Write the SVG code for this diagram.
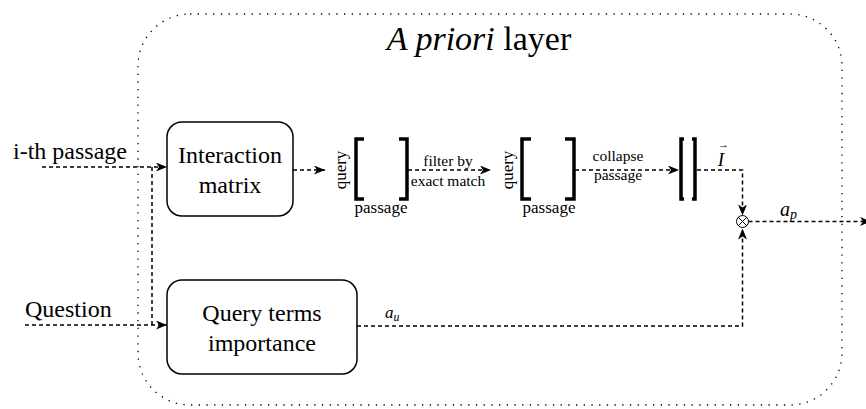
<svg xmlns="http://www.w3.org/2000/svg" width="866" height="409" viewBox="0 0 866 409">
  <style>
    text { font-family: "Liberation Serif", "Times New Roman", serif; fill: #000; }
    .big { font-size: 24px; }
    .mid { font-size: 17px; }
    .small { font-size: 15.5px; }
    .math { font-style: italic; }
    .box { fill: #fff; stroke: #000; stroke-width: 1.5; }
    .frame { fill: none; stroke: #000; stroke-width: 1.3; stroke-dasharray: 1.3 6.4; }
    .bracket { fill: none; stroke: #000; stroke-width: 3.5; }
    .link { fill: none; stroke: #000; stroke-width: 1.5; stroke-dasharray: 4 3; }
    .arrow { marker-end: url(#head); }
  </style>
  <defs>
    <marker id="head" viewBox="0 0 11 9" refX="11" refY="4.5" markerWidth="11" markerHeight="9" markerUnits="userSpaceOnUse" orient="auto">
      <path d="M0,0 L11,4.5 L0,9 L3,4.5 Z" fill="#000"/>
    </marker>
  </defs>

  <!-- enclosing layer -->
  <g id="apriori-layer">
    <rect class="frame" x="138" y="14" width="704" height="391" rx="52" ry="52"/>
    <text x="479" y="50" font-size="34" text-anchor="middle"><tspan font-style="italic">A priori</tspan> layer</text>
  </g>

  <!-- inputs -->
  <g id="input-passage">
    <text class="big" x="13" y="159">i-th passage</text>
  </g>
  <g id="input-question">
    <text class="big" x="25" y="317">Question</text>
  </g>

  <!-- processing blocks -->
  <g id="interaction-matrix">
    <rect class="box" x="167" y="122" width="126" height="94" rx="15" ry="15"/>
    <text class="big" x="230" y="163" text-anchor="middle">Interaction</text>
    <text class="big" x="230" y="193" text-anchor="middle">matrix</text>
  </g>

  <g id="query-terms-importance">
    <rect class="box" x="167" y="280" width="190" height="94" rx="15" ry="15"/>
    <text class="big" x="262" y="321" text-anchor="middle">Query terms</text>
    <text class="big" x="262" y="351" text-anchor="middle">importance</text>
  </g>

  <g id="matrix-full">
    <path class="bracket" d="M364,139 H356 V199 H364"/>
    <path class="bracket" d="M399,139 H407 V199 H399"/>
    <text class="mid" transform="translate(346,170) rotate(-90)" text-anchor="middle">query</text>
    <text class="mid" x="381" y="213" text-anchor="middle">passage</text>
  </g>

  <g id="matrix-filtered">
    <path class="bracket" d="M531,139 H522 V199 H531"/>
    <path class="bracket" d="M565,139 H574 V199 H565"/>
    <text class="mid" transform="translate(513,170) rotate(-90)" text-anchor="middle">query</text>
    <text class="mid" x="549" y="213" text-anchor="middle">passage</text>
  </g>

  <g id="vector-I">
    <path class="bracket" d="M684,139 H681 V199 H684"/>
    <path class="bracket" d="M692,139 H695 V199 H692"/>
  </g>

  <g id="product">
    <circle cx="742.5" cy="221.5" r="6" fill="#fff" stroke="#000" stroke-width="1"/>
    <path d="M738.3,217.3 L746.7,225.7 M746.7,217.3 L738.3,225.7" stroke="#000" stroke-width="1"/>
  </g>

  <!-- connectors -->
  <g id="connectors">
    <path class="link arrow" d="M42,167 H167"/>
    <path class="link" d="M152,167 V325"/>
    <path class="link arrow" d="M25,325 H167"/>
    <path class="link arrow" d="M293,170 H325"/>
    <path class="link arrow" d="M408,170 H491"/>
    <path class="link arrow" d="M575,170 H679"/>
    <path class="link arrow" d="M697,170 H742.5 V215.5"/>
    <path class="link arrow" d="M357,326 H742.5 V228.5"/>
    <path class="link arrow" d="M748.5,221.5 H871"/>

    <text class="small" x="448" y="166" text-anchor="middle">filter by</text>
    <text class="small" x="448" y="186" text-anchor="middle">exact match</text>
    <text class="small" x="618" y="161" text-anchor="middle">collapse</text>
    <text class="small" x="618" y="180" text-anchor="middle">passage</text>

    <!-- vector I with its arrow accent -->
    <text class="math" x="721" y="166" font-size="19" text-anchor="middle">I</text>
    <text x="723.5" y="148" font-size="11" text-anchor="middle">→</text>
    <text class="math" x="780" y="216" font-size="20">a<tspan font-size="14" dy="3">p</tspan></text>
    <text class="math" x="385" y="318" font-size="17">a<tspan font-size="12" dy="3">u</tspan></text>
  </g>
</svg>
